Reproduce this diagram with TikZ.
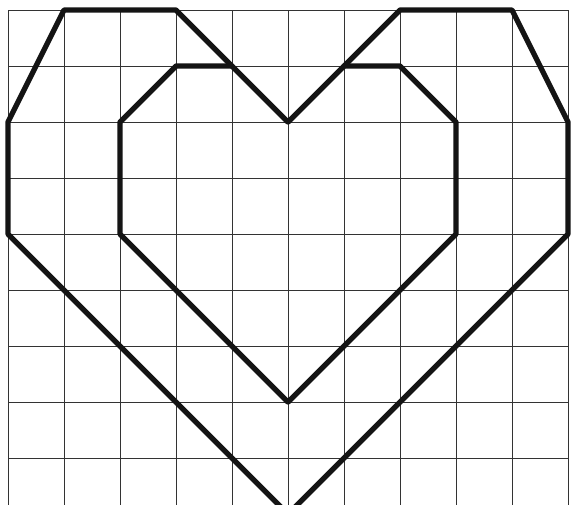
\documentclass[tikz,border=0pt]{standalone}
\begin{document}
\begin{tikzpicture}[x=1cm,y=1cm,
  gridline/.style={draw=black!80,line width=0.45pt},
  heartline/.style={draw=black!92,line width=2.7pt,line join=round,line cap=round}]
\useasboundingbox (-0.143,0.179) rectangle (10.107,-8.821);
\clip (-0.143,0.179) rectangle (10.107,-8.821);
\fill[white] (-0.143,0.179) rectangle (10.107,-8.821);
% grid
\foreach \i in {0,...,10} \draw[gridline] (\i,0) -- (\i,-8.9);
\foreach \j in {0,...,8} \draw[gridline] (0,-\j) -- (10,-\j);
% outer heart vertices
\coordinate (o1) at (0,-2);
\coordinate (o2) at (1,0);
\coordinate (o3) at (3,0);
\coordinate (o4) at (5,-2);
\coordinate (o5) at (7,0);
\coordinate (o6) at (9,0);
\coordinate (o7) at (10,-2);
\coordinate (o8) at (10,-4);
\coordinate (o9) at (5,-9);
\coordinate (o10) at (0,-4);
\draw[heartline] (o1) -- (o2) -- (o3) -- (o4) -- (o5) -- (o6) -- (o7) -- (o8) -- (o9) -- (o10) -- cycle;
% inner heart vertices
\coordinate (i1) at (2,-2);
\coordinate (i2) at (3,-1);
\coordinate (i3) at (4,-1);
\coordinate (i4) at (6,-1);
\coordinate (i5) at (7,-1);
\coordinate (i6) at (8,-2);
\coordinate (i7) at (8,-4);
\coordinate (i8) at (5,-7);
\coordinate (i9) at (2,-4);
\draw[heartline] (i3) -- (i2) -- (i1) -- (i9) -- (i8) -- (i7) -- (i6) -- (i5) -- (i4);
\end{tikzpicture}
\end{document}
